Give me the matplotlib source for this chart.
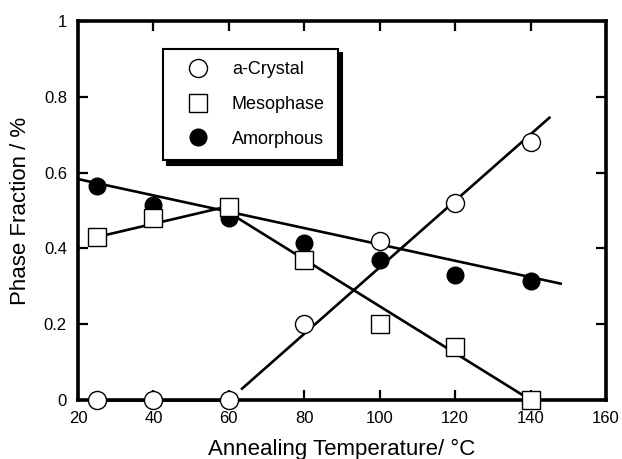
import matplotlib
matplotlib.use("Agg")
import matplotlib.pyplot as plt

plt.rcParams['font.family'] = ['Liberation Sans', 'DejaVu Sans']

# data
temp = [25, 40, 60, 80, 100, 120, 140]
crystal = [0, 0, 0, 0.20, 0.42, 0.52, 0.68]
meso = [0.43, 0.48, 0.51, 0.37, 0.20, 0.14, 0]
amorph = [0.565, 0.515, 0.48, 0.415, 0.37, 0.33, 0.315]

# guide lines (end points)
amorph_fit_x = [20, 148]
amorph_fit_y = [0.583, 0.307]
meso_up_x = [25, 58]
meso_up_y = [0.43, 0.507]
meso_down_x = [58, 140]
meso_down_y = [0.507, 0]
cryst_flat_x = [25, 60]
cryst_flat_y = [0, 0]
cryst_up_x = [63.5, 145]
cryst_up_y = [0.03, 0.745]

fig = plt.figure(figsize=(6.22, 4.59), dpi=100)
ax = fig.add_axes([0.1254, 0.1285, 0.8489, 0.8257])

lw = 1.9
ax.plot(amorph_fit_x, amorph_fit_y, color='black', lw=lw, clip_on=False)
ax.plot(meso_up_x, meso_up_y, color='black', lw=lw)
ax.plot(meso_down_x, meso_down_y, color='black', lw=lw)
ax.plot(cryst_flat_x, cryst_flat_y, color='black', lw=lw, clip_on=False)
ax.plot(cryst_up_x, cryst_up_y, color='black', lw=lw)

ax.plot(temp, crystal, 'o', ms=13, mfc='white', mec='black', mew=1.0,
        ls='none', clip_on=False, zorder=5, label='a-Crystal')
ax.plot(temp, meso, 's', ms=13, mfc='white', mec='black', mew=1.0,
        ls='none', clip_on=False, zorder=4, label='Mesophase')
ax.plot(temp, amorph, 'o', ms=12, mfc='black', mec='black',
        ls='none', clip_on=False, zorder=3, label='Amorphous')

ax.set_xlim(20, 160)
ax.set_ylim(0, 1)
ax.set_xticks([20, 40, 60, 80, 100, 120, 140, 160])
ax.set_yticks([0, 0.2, 0.4, 0.6, 0.8, 1])
ax.set_yticklabels(['0', '0.2', '0.4', '0.6', '0.8', '1'])
ax.tick_params(direction='in', length=7, width=1.6, labelsize=12,
               top=True, right=True)
ax.tick_params(axis='x', pad=8)
ax.tick_params(axis='y', pad=8)
for s in ax.spines.values():
    s.set_linewidth(2.6)

ax.set_xlabel('Annealing Temperature/ \u00b0C', fontsize=16, labelpad=9)
ax.set_ylabel('Phase Fraction / %', fontsize=16, labelpad=9)

leg = ax.legend(loc='upper left', bbox_to_anchor=(0.161, 0.927),
                frameon=True, fancybox=False, edgecolor='black',
                fontsize=13, handlelength=2.48, handletextpad=0.64,
                labelspacing=0.98, borderpad=0.7, borderaxespad=0,
                shadow={'color': 'black', 'alpha': 1, 'ox': 3, 'oy': -3})
leg.get_frame().set_linewidth(1.5)

fig.savefig('out.png', dpi=100)
